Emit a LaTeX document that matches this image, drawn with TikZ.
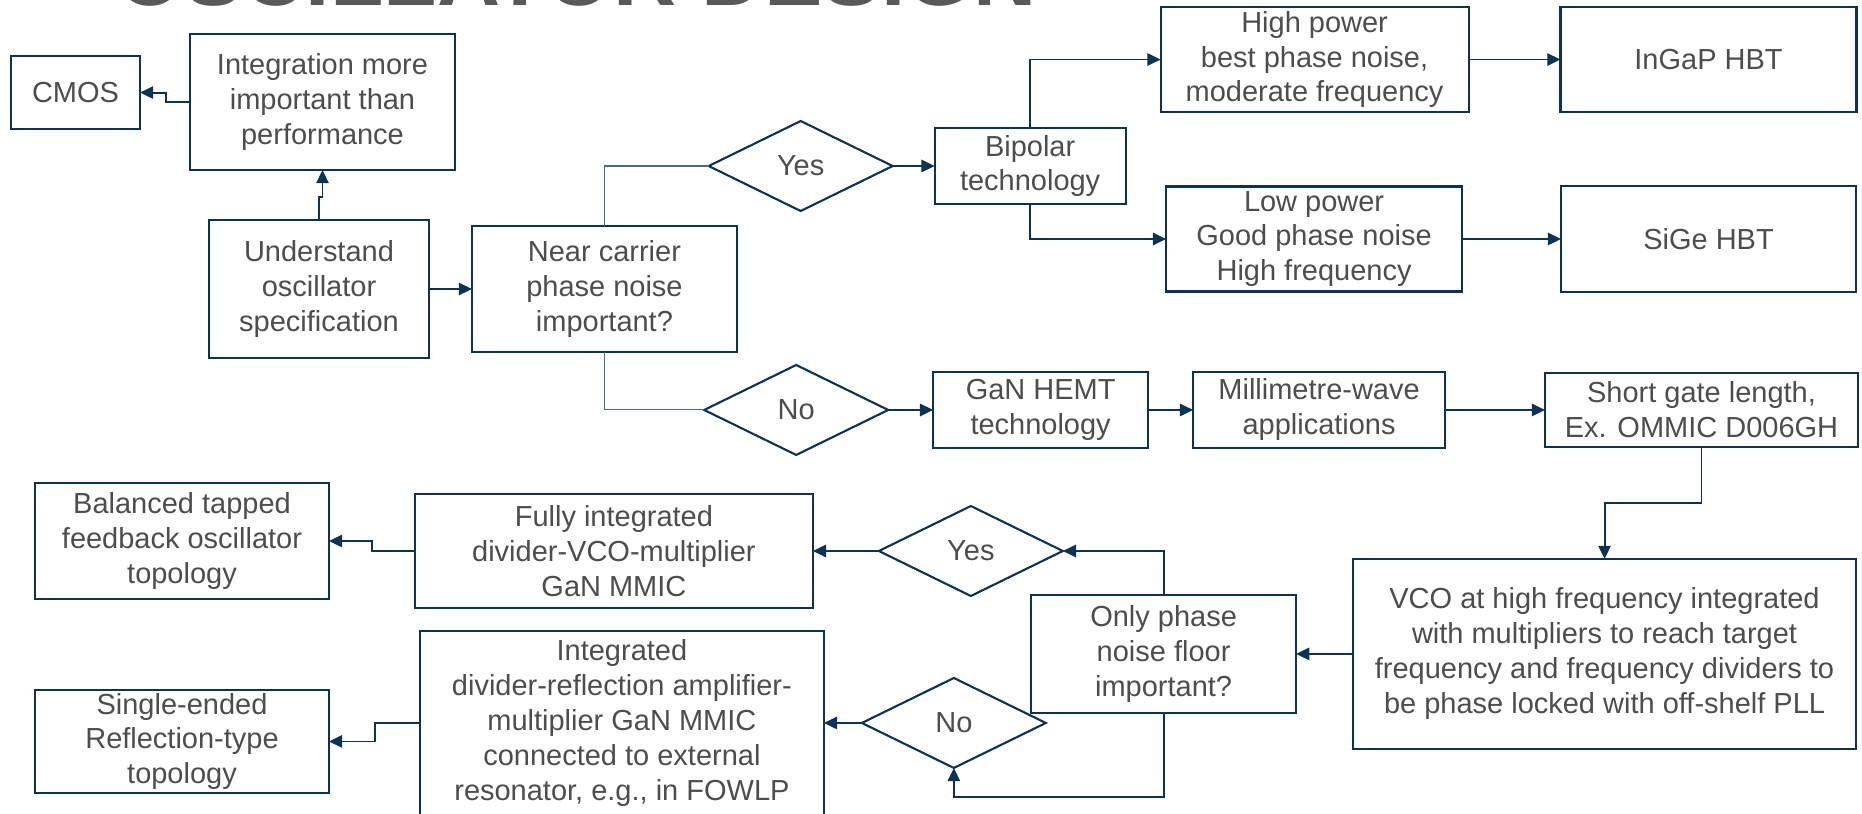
\documentclass[tikz,border=0pt]{standalone}
\usepackage{fontspec}
\setmainfont{Liberation Sans}
\usepackage{tikz}
\usetikzlibrary{positioning,arrows.meta,shapes.geometric}
\definecolor{navy}{HTML}{0D3253}
\definecolor{navyl}{HTML}{4A6B88}
\definecolor{ink}{HTML}{4D4D4D}
\definecolor{ttl}{HTML}{595959}
\tikzset{
  box/.style={rectangle, draw=navy, line width=1.2pt, text=ink, align=center,
              inner sep=0pt, outer sep=0pt},
  choice/.style={diamond, aspect=2, draw=navy, line width=1.2pt, text=ink,
                 inner sep=0pt, outer sep=0pt, minimum width=3.68cm, minimum height=1.8cm},
  flow/.style={-{Triangle[length=7.5pt,width=7pt]}, line width=1.1pt, draw=navy},
  tap/.style={line width=0.6pt, draw=navyl}
}

\begin{document}
\begin{tikzpicture}[x=0.02cm, y=-0.02cm, font=\fontsize{16.5}{19.9}\selectfont]
\useasboundingbox (0,0) rectangle (1862,814);
\node[anchor=base west, text=ttl, font=\fontsize{49.8}{55}\selectfont\bfseries] (head) at (110,6) {OSCILLATOR DESIGN};
\node[box, minimum width=4.4cm, minimum height=2.76cm] (und) at (319,289) {Understand\\oscillator\\specification};
\node[box, minimum width=5.3cm, minimum height=2.72cm, above=1cm of und, xshift=0.07cm] (intg) {Integration more\\important than\\performance};
\node[box, minimum width=2.58cm, minimum height=1.46cm, left=1cm of intg, yshift=0.19cm] (cmos) {CMOS};
\node[box, minimum width=5.3cm, minimum height=2.52cm, right=0.86cm of und] (near) {Near carrier\\phase noise\\important?};
\node[box, minimum width=5.9cm, minimum height=2.12cm] (sige) at (1708.5,239) {SiGe HBT};
\node[box, minimum width=5.92cm, minimum height=2.1cm, above=1.48cm of sige] (ingap) {InGaP HBT};
\node[box, minimum width=5.92cm, minimum height=2.1cm, left=1.98cm of sige] (lop) {Low power\\Good phase noise\\High frequency};
\node[box, minimum width=6.16cm, minimum height=2.1cm, left=1.84cm of ingap] (hip) {High power\\best phase noise,\\moderate frequency};
\node[box, minimum width=3.82cm, minimum height=1.52cm, below left=0.32cm and 0.7cm of hip] (bip) {Bipolar\\technology};
\node[choice, left=0.84cm of bip] (yes1) {Yes};
\node[box, minimum width=6.26cm, minimum height=1.48cm, below=1.62cm of sige, xshift=-0.14cm] (sgl) {Short gate length,\\Ex. OMMIC D006GH};
\node[box, minimum width=5.04cm, minimum height=1.52cm, left=2cm of sgl] (mmw) {Millimetre-wave\\applications};
\node[box, minimum width=4.3cm, minimum height=1.52cm, left=0.9cm of mmw] (gan) {GaN HEMT\\technology};
\node[choice, left=0.9cm of gan] (no1) {No};
\node[box, minimum width=10.06cm, minimum height=3.8cm, below=2.24cm of sgl, xshift=-1.94cm] (vco) {VCO at high frequency integrated\\with multipliers to reach target\\frequency and frequency dividers to\\be phase locked with off-shelf PLL};
\node[box, minimum width=5.3cm, minimum height=2.36cm, left=1.14cm of vco] (only) {Only phase\\noise floor\\important?};
\node[box, minimum width=5.88cm, minimum height=2.32cm] (bal) at (182,541) {Balanced tapped\\feedback oscillator\\topology};
\node[box, minimum width=7.96cm, minimum height=2.28cm, right=1.72cm of bal, yshift=-0.2cm] (fully) {Fully integrated\\divider-VCO-multiplier\\GaN MMIC};
\node[choice, right=1.32cm of fully] (yes2) {Yes};
\node[box, minimum width=5.88cm, minimum height=2.06cm, below=1.82cm of bal] (single) {Single-ended\\Reflection-type\\topology};
\node[box, minimum width=8.08cm, minimum height=3.68cm, right=1.82cm of single, yshift=0.37cm] (integ) {Integrated\\divider-reflection amplifier-\\multiplier GaN MMIC\\connected to external\\resonator, e.g., in FOWLP};
\node[choice, right=0.76cm of integ] (no2) {No};
\draw[flow] (und.east) -- (near.west);
\draw[flow] (und.north) -- ++(0,-23) -| (intg.south);
\draw[flow] (intg.west) -- ++(-24,0) |- (cmos.east);
\draw[tap] (near.north) |- (yes1.west);
\draw[tap] (near.south) |- (no1.west);
\draw[flow] (yes1.east) -- (bip.west);
\draw[flow] (no1.east) -- (gan.west);
\draw[flow] (bip.north) |- (hip.west);
\draw[flow] (bip.south) |- (lop.west);
\draw[flow] (hip) -- (ingap);
\draw[flow] (lop) -- (sige);
\draw[flow] (gan) -- (mmw);
\draw[flow] (mmw) -- (sgl);
\draw[flow] (sgl.south) -- ++(0,56) -| (vco.north);
\draw[flow] (vco.west) -- (only.east);
\draw[flow] (only.north) |- (yes2.east);
\draw[flow] (only.south) -- ++(0,84) -| (no2.south);
\draw[flow] (yes2.west) -- (fully.east);
\draw[flow] (no2.west) -- (integ.east);
\draw[flow] (fully.west) -- ++(-43,0) |- (bal.east);
\draw[flow] (integ.west) -- ++(-45,0) |- (single.east);
\end{tikzpicture}
\end{document}
